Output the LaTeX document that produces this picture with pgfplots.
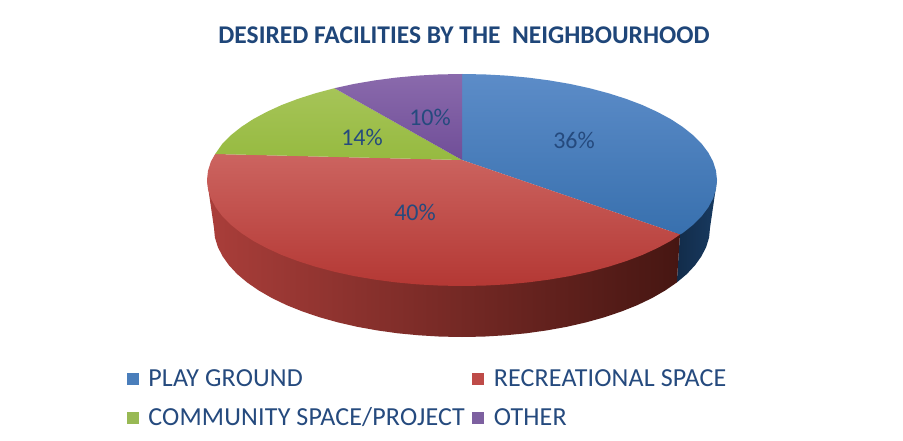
\documentclass[border=0pt]{standalone}
\usepackage{pgfplots}
\pgfplotsset{compat=1.18}
\usepackage{fontspec}
\setmainfont{Carlito}
\definecolor{txt}{HTML}{254A7E}
\definecolor{ttl}{HTML}{1F4679}
\definecolor{lb}{HTML}{4A7EBB}
\definecolor{lr}{HTML}{BE4B48}
\definecolor{lg}{HTML}{98B954}
\definecolor{lp}{HTML}{7D60A0}
\definecolor{sbl}{RGB}{18,44,74}
\definecolor{sbr}{RGB}{24,58,96}
\definecolor{srl}{RGB}{170,62,58}
\definecolor{srm}{RGB}{92,26,24}
\definecolor{srr}{RGB}{70,22,18}
\definecolor{tbt}{RGB}{92,140,200}
\definecolor{tbb}{RGB}{56,112,174}
\definecolor{trt}{RGB}{204,100,96}
\definecolor{trb}{RGB}{180,56,52}
\definecolor{tgt}{RGB}{166,196,88}
\definecolor{tgb}{RGB}{150,186,64}
\definecolor{tpt}{RGB}{138,106,172}
\definecolor{tpb}{RGB}{112,78,152}
\begin{document}
\begin{tikzpicture}
\begin{axis}[
  scale only axis, width=903pt, height=441pt,
  xmin=0, xmax=903, ymin=0, ymax=441, y dir=reverse,
  hide axis, clip=false,
  legend columns=2,
  legend image code/.code={\fill[#1] (0pt,-5.5pt) rectangle (11pt,5.5pt);},
  legend cell align=left,
  legend style={at={(axis cs:127,368)}, anchor=north west, draw=none, fill=none,
    inner sep=0pt, outer sep=0pt, font=\fontsize{26}{30}\selectfont\addfontfeature{LetterSpace=0.65}\color{txt},
    /tikz/every even column/.append style={column sep=6.5pt},
    /tikz/every odd column/.append style={column sep=9pt},
    /tikz/every node/.append style={inner xsep=1pt},
    row sep=15.4pt},
]
% background
\addplot[forget plot, draw=none, fill=white] coordinates {(0,0)(903,0)(903,441)(0,441)} -- cycle;
% side: blue
\addplot[forget plot, draw=none, left color=sbl, right color=sbr] coordinates {
(680,234)(717,180)(710,228)(709.1,237.5)(706.2,246.9)(701.5,256.2)(695,265.3)(686.8,274.1)(676.8,282.5)} -- cycle;
% side: red
\addplot[forget plot, draw=none, left color=srl, middle color=srm, right color=srr] coordinates {
(680,234)(676.8,282.5)(665.2,290.5)(652,298.1)(637.4,305.1)(621.4,311.5)(604.3,317.3)(586,322.4)(566.8,326.8)(546.8,330.4)(526.2,333.3)(505.1,335.3)(483.6,336.6)(462,337)(440.4,336.6)(418.9,335.3)(397.8,333.3)(377.2,330.4)(357.2,326.8)(338,322.4)(319.7,317.3)(302.6,311.5)(286.6,305.1)(272,298.1)(258.8,290.5)(247.2,282.5)(237.2,274.1)(229,265.3)(222.5,256.2)(217.8,246.9)(214.9,237.5)(214,228)(207,180)(462,180)} -- cycle;
% top: blue 36%
\addplot[forget plot, draw=none, top color=tbt, bottom color=tbb] coordinates {
(462,160)(462,74)(484.2,74.4)(506.3,75.6)(528,77.6)(549.2,80.4)(569.8,83.9)(589.5,88.2)(608.3,93.2)(625.9,98.8)(642.3,105)(657.3,111.9)(670.9,119.2)(682.8,127)(693.1,135.2)(701.6,143.7)(708.3,152.6)(713.1,161.6)(716,170.8)(717,180)(716,189.2)(713.1,198.4)(708.3,207.4)(701.6,216.3)(693.1,224.8)(682.8,233)(680,234.5)} -- cycle;
% top: red 40%
\addplot[forget plot, draw=none, top color=trt, bottom color=trb] coordinates {
(462,160)(680,234.5)(670.9,240.8)(657.3,248.1)(642.3,255)(625.9,261.2)(608.3,266.8)(589.5,271.8)(569.8,276.1)(549.2,279.6)(528,282.4)(506.3,284.4)(484.2,285.6)(462,286)(439.8,285.6)(417.7,284.4)(396,282.4)(374.8,279.6)(354.2,276.1)(334.5,271.8)(315.7,266.8)(298.1,261.2)(281.7,255)(266.7,248.1)(253.1,240.8)(241.2,233)(230.9,224.8)(222.4,216.3)(215.7,207.4)(210.9,198.4)(208,189.2)(207,180)(208,170.8)(210.9,161.6)(215.2,154)} -- cycle;
% top: green 14%
\addplot[forget plot, draw=none, top color=tgt, bottom color=tgb] coordinates {
(462,160)(215.2,154)(222.4,143.7)(230.9,135.2)(241.2,127)(253.1,119.2)(266.7,111.9)(281.7,105)(298.1,98.8)(315.7,93.2)(334.5,88.2)} -- cycle;
% top: purple 10%
\addplot[forget plot, draw=none, top color=tpt, bottom color=tpb] coordinates {
(462,160)(334.5,88.2)(354.2,83.9)(374.8,80.4)(396,77.6)(417.7,75.6)(439.8,74.4)(462,74)} -- cycle;
% legend
\addlegendimage{lb}\addlegendentry{PLAY GROUND}
\addlegendimage{lr}\addlegendentry{RECREATIONAL SPACE}
\addlegendimage{lg}\addlegendentry{COMMUNITY SPACE/PROJECT}
\addlegendimage{lp}\addlegendentry{OTHER}
% labels
\node[font=\fontsize{24}{28}\selectfont, text=txt] at (axis cs:574,140) {36\%};
\node[font=\fontsize{24}{28}\selectfont, text=txt] at (axis cs:415,212) {40\%};
\node[font=\fontsize{24}{28}\selectfont, text=txt] at (axis cs:362,137) {14\%};
\node[font=\fontsize{24}{28}\selectfont, text=txt] at (axis cs:430,117) {10\%};
\node[font=\fontsize{25.5}{30}\selectfont\bfseries, text=ttl] at (axis cs:464,35) {DESIRED FACILITIES BY THE\ \ NEIGHBOURHOOD};
\end{axis}
\end{tikzpicture}
\end{document}
